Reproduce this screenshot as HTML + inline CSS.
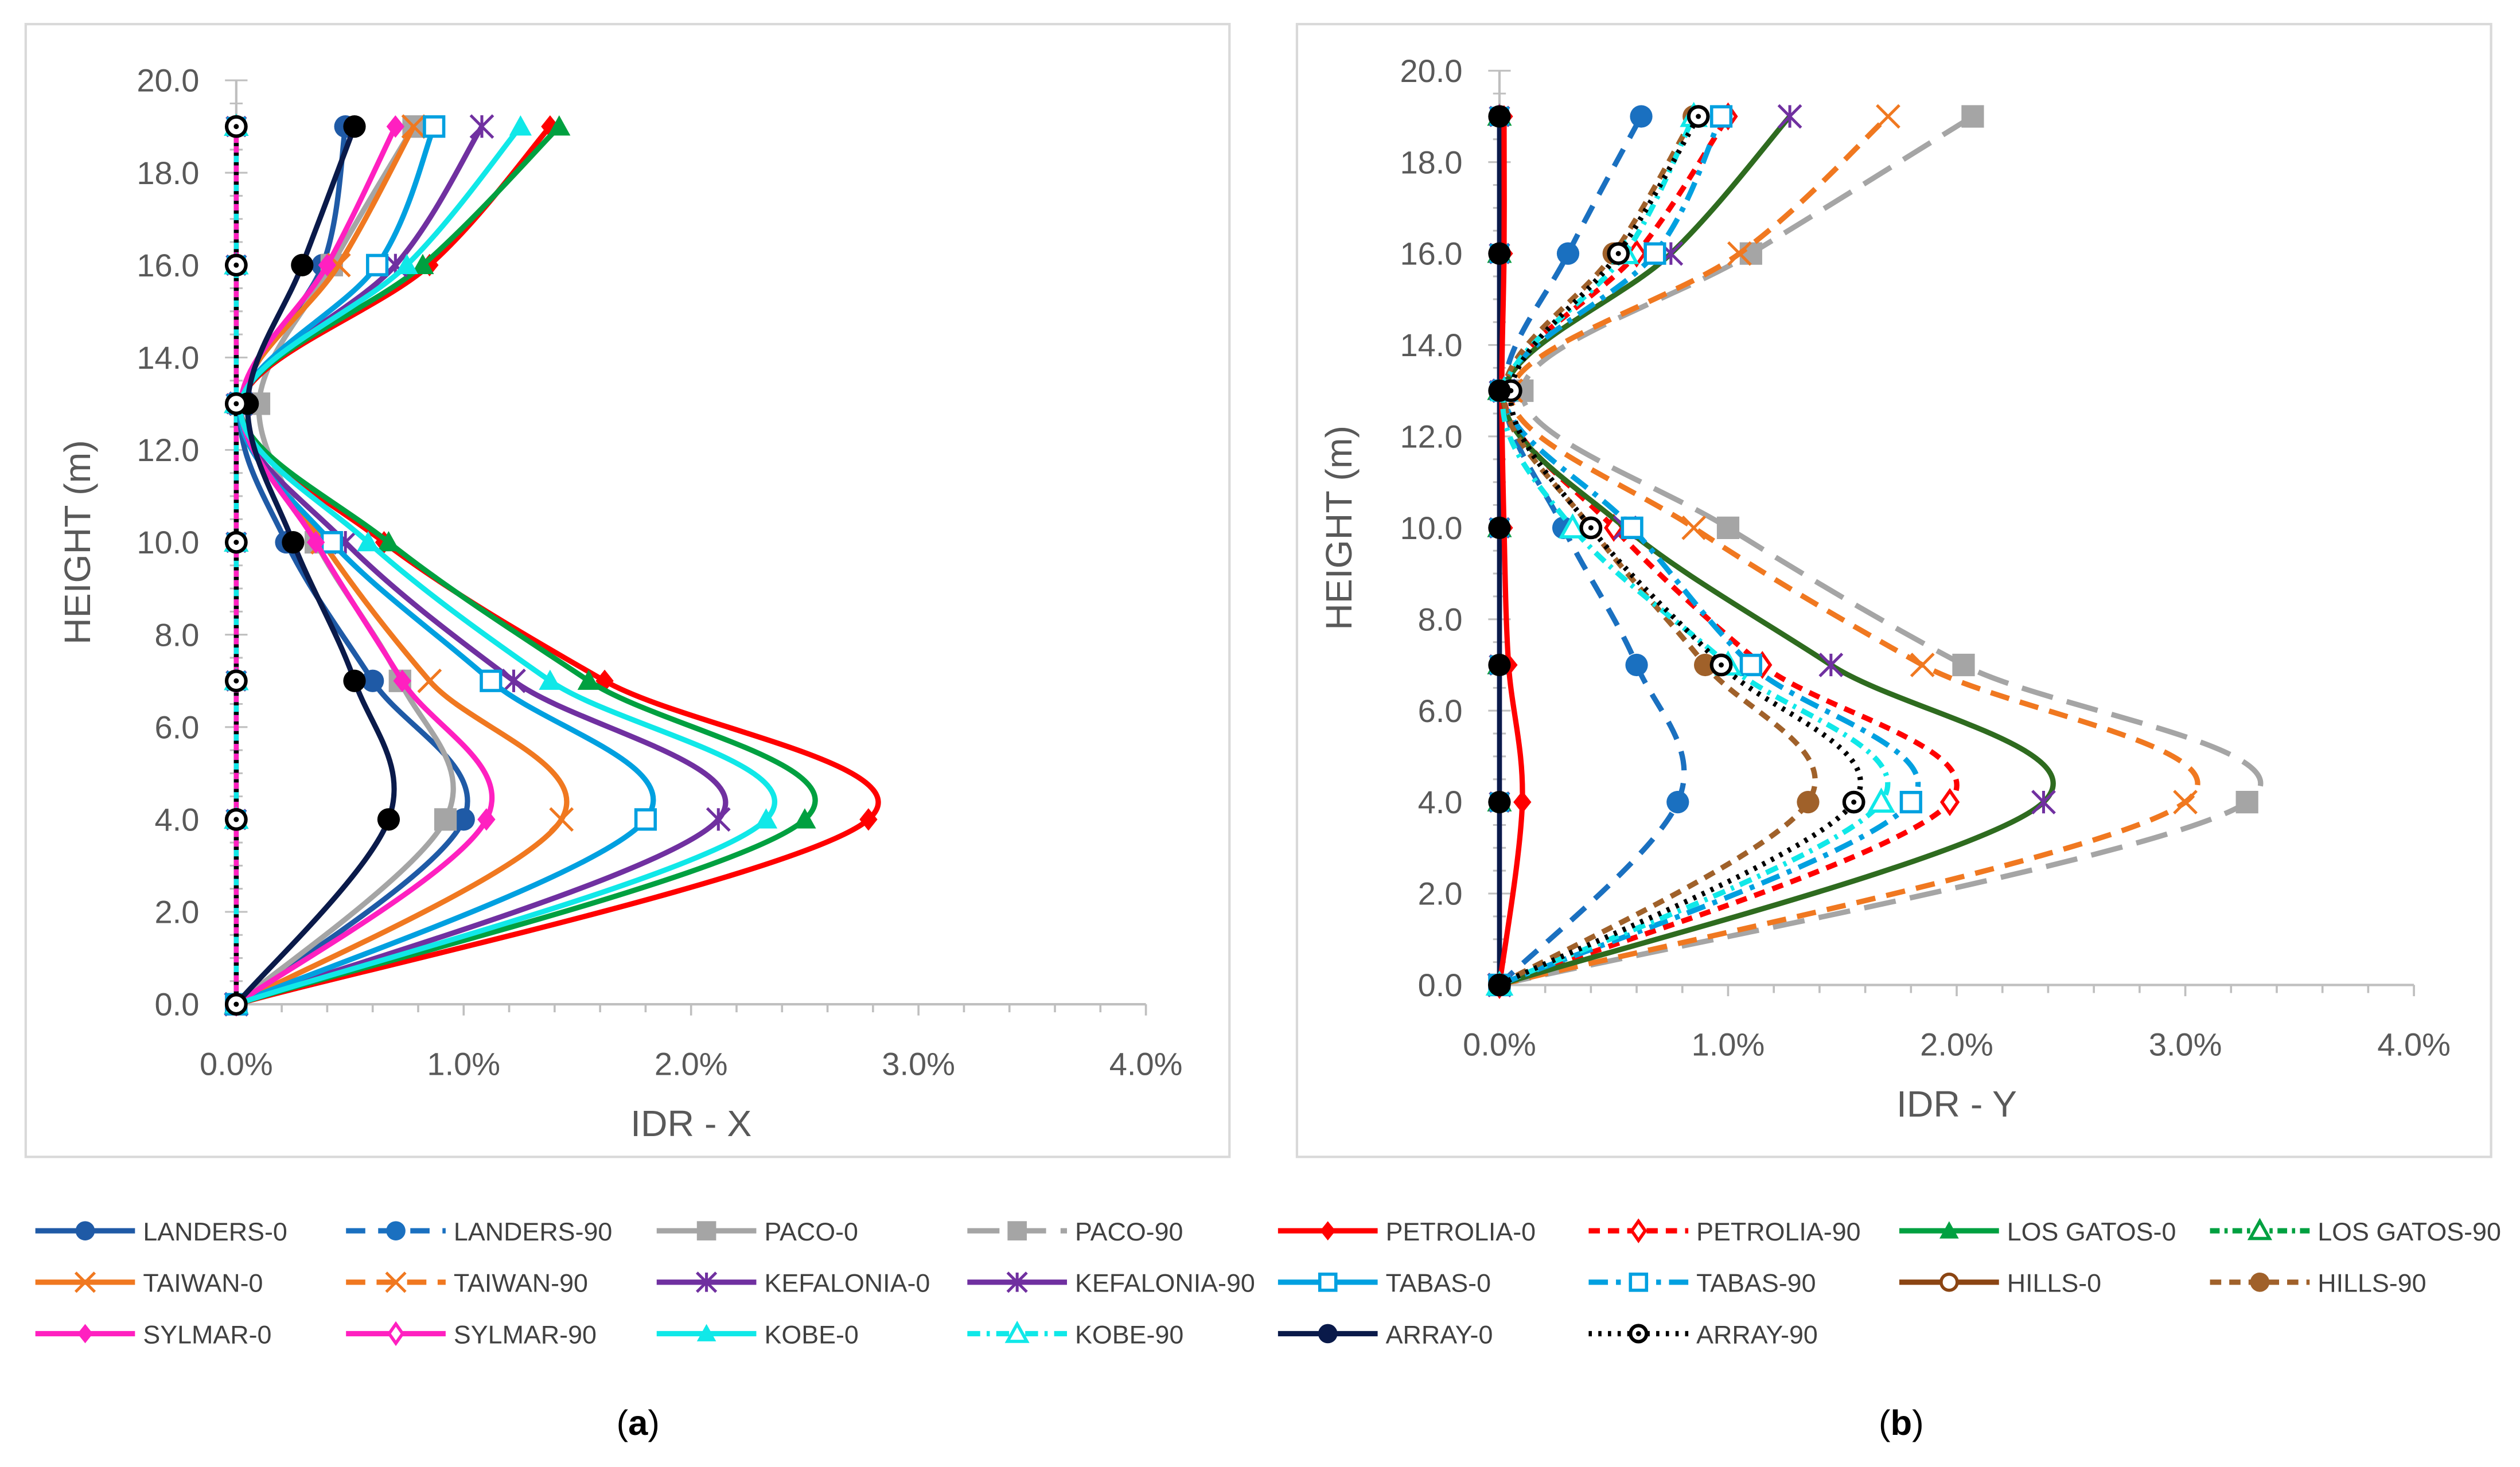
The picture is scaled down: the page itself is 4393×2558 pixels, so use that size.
<!DOCTYPE html>
<html><head><meta charset="utf-8"><style>
html,body{margin:0;padding:0;background:#fff}
svg{display:block}
text{font-family:"Liberation Sans",sans-serif}
</style></head><body>
<svg id="fig" width="4393" height="2558" viewBox="0 0 1568 913" preserveAspectRatio="none" xmlns="http://www.w3.org/2000/svg">
<rect x="0" y="0" width="1568" height="913" fill="#fff"/>
<rect x="16" y="15" width="749" height="705" fill="none" stroke="#d9d9d9" stroke-width="1.5"/>
<rect x="807" y="15" width="743" height="705" fill="none" stroke="#d9d9d9" stroke-width="1.5"/>
<g id="pa"></g><g id="pb"></g><g id="leg"></g>
<text x="397" y="893" font-family="Liberation Serif" font-size="22" text-anchor="middle" fill="#000">(<tspan font-weight="bold">a</tspan>)</text>
<text x="1183" y="893" font-family="Liberation Serif" font-size="22" text-anchor="middle" fill="#000">(<tspan font-weight="bold">b</tspan>)</text>
</svg>
<script>
const heights=[0,4,7,10,13,16,19];
const xTicks=["0.0%","1.0%","2.0%","3.0%","4.0%"];
const yTicks=["0.0","2.0","4.0","6.0","8.0","10.0","12.0","14.0","16.0","18.0","20.0"];
const names=["LANDERS-0","LANDERS-90","PACO-0","PACO-90","PETROLIA-0","PETROLIA-90","LOS GATOS-0","LOS GATOS-90","TAIWAN-0","TAIWAN-90","KEFALONIA-0","KEFALONIA-90","TABAS-0","TABAS-90","HILLS-0","HILLS-90","SYLMAR-0","SYLMAR-90","KOBE-0","KOBE-90","ARRAY-0","ARRAY-90"];
const idrX={
"LANDERS-0":[0,1.0,0.6,0.22,0.02,0.38,0.48],
"PACO-0":[0,0.92,0.72,0.35,0.1,0.42,0.78],
"PETROLIA-0":[0,2.78,1.62,0.65,0.02,0.85,1.38],
"LOS GATOS-0":[0,2.5,1.55,0.67,0.02,0.82,1.42],
"TAIWAN-0":[0,1.43,0.85,0.38,0.02,0.45,0.78],
"KEFALONIA-0":[0,2.12,1.22,0.48,0.02,0.7,1.08],
"TABAS-0":[0,1.8,1.12,0.42,0.02,0.62,0.87],
"SYLMAR-0":[0,1.1,0.73,0.35,0.02,0.4,0.7],
"KOBE-0":[0,2.33,1.38,0.58,0.02,0.75,1.25],
"ARRAY-0":[0,0.67,0.52,0.25,0.05,0.29,0.52]
};
const idrY={
"PETROLIA-0":[0,0.1,0.04,0.02,0.01,0.02,0.02],
"LANDERS-90":[0,0.78,0.6,0.28,0.02,0.3,0.62],
"PACO-90":[0,3.27,2.03,1.0,0.1,1.1,2.07],
"PETROLIA-90":[0,1.97,1.15,0.5,0.02,0.6,1.0],
"TAIWAN-90":[0,3.0,1.85,0.85,0.05,1.05,1.7],
"KEFALONIA-90":[0,2.38,1.45,0.55,0.02,0.75,1.27],
"TABAS-90":[0,1.8,1.1,0.58,0.02,0.68,0.97],
"HILLS-90":[0,1.35,0.9,0.4,0.02,0.5,0.85],
"KOBE-90":[0,1.67,1.0,0.32,0.02,0.55,0.85],
"ARRAY-90":[0,1.55,0.97,0.4,0.05,0.52,0.87]
};
const st={
"LANDERS-0":{c:"#1f5aa6",d:"",m:"circle"},"LANDERS-90":{c:"#1a70c0",d:"12,8",m:"circle"},
"PACO-0":{c:"#a5a5a5",d:"",m:"square"},"PACO-90":{c:"#a5a5a5",d:"20,9",m:"square"},
"PETROLIA-0":{c:"#ff0000",d:"",m:"diamond"},"PETROLIA-90":{c:"#ff0000",d:"7,5",m:"odiamond"},
"LOS GATOS-0":{c:"#00a040",d:"",m:"triangle"},"LOS GATOS-90":{c:"#00a040",d:"6,3,2,3",m:"otriangle"},
"TAIWAN-0":{c:"#f07820",d:"",m:"x"},"TAIWAN-90":{c:"#f07820",d:"12,7",m:"x"},
"KEFALONIA-0":{c:"#7030a0",d:"",m:"star"},"KEFALONIA-90":{c:"#2e6b1f",d:"",m:"star",mc:"#7030a0"},
"TABAS-0":{c:"#00a0e0",d:"",m:"osquare"},"TABAS-90":{c:"#00a0e0",d:"12,5,3,5",m:"osquare"},
"HILLS-0":{c:"#8b4513",d:"",m:"ocircle"},"HILLS-90":{c:"#a0612a",d:"7,5",m:"circle"},
"SYLMAR-0":{c:"#ff20c0",d:"",m:"diamond"},"SYLMAR-90":{c:"#ff20c0",d:"",m:"odiamond"},
"KOBE-0":{c:"#10e8e8",d:"",m:"triangle"},"KOBE-90":{c:"#10e8e8",d:"8,4,2,4",m:"otriangle"},
"ARRAY-0":{c:"#0a1a4a",d:"",m:"circle",mc:"#000"},"ARRAY-90":{c:"#000",d:"2,4",m:"dotcircle"}
};
const NS="http://www.w3.org/2000/svg";
function el(t,a,p){const e=document.createElementNS(NS,t);for(const k in a)e.setAttribute(k,a[k]);p.appendChild(e);return e;}
function marker(g,type,x,y,c,r){
 r=r||7;let e;
 if(type=="circle")e=el("circle",{cx:x,cy:y,r:r,fill:c},g);
 else if(type=="ocircle"){e=el("circle",{cx:x,cy:y,r:r-1,fill:"#fff",stroke:c,"stroke-width":2},g);}
 else if(type=="dotcircle"){e=el("circle",{cx:x,cy:y,r:r-1,fill:"#fff",stroke:c,"stroke-width":2.2},g);el("circle",{cx:x,cy:y,r:1.6,fill:c},g);}
 else if(type=="square")e=el("rect",{x:x-r,y:y-r,width:2*r,height:2*r,fill:c},g);
 else if(type=="osquare")e=el("rect",{x:x-r+1,y:y-r+1,width:2*r-2,height:2*r-2,fill:"#fff",stroke:c,"stroke-width":2},g);
 else if(type=="diamond")e=el("path",{d:`M${x} ${y-r}L${x+r*0.8} ${y}L${x} ${y+r}L${x-r*0.8} ${y}Z`,fill:c},g);
 else if(type=="odiamond")e=el("path",{d:`M${x} ${y-r}L${x+r*0.7} ${y}L${x} ${y+r}L${x-r*0.7} ${y}Z`,fill:"#fff",stroke:c,"stroke-width":2},g);
 else if(type=="triangle")e=el("path",{d:`M${x} ${y-r}L${x+r} ${y+r*0.8}L${x-r} ${y+r*0.8}Z`,fill:c},g);
 else if(type=="otriangle")e=el("path",{d:`M${x} ${y-r}L${x+r} ${y+r*0.8}L${x-r} ${y+r*0.8}Z`,fill:"#fff",stroke:c,"stroke-width":2},g);
 else if(type=="x")e=el("path",{d:`M${x-r} ${y-r}L${x+r} ${y+r}M${x+r} ${y-r}L${x-r} ${y+r}`,stroke:c,"stroke-width":1.8,fill:"none"},g);
 else if(type=="star")e=el("path",{d:`M${x-r} ${y-r}L${x+r} ${y+r}M${x+r} ${y-r}L${x-r} ${y+r}M${x} ${y-r}L${x} ${y+r}`,stroke:c,"stroke-width":1.8,fill:"none"},g);
 return e;
}
function smooth(pts){
 let d=`M${pts[0][0]} ${pts[0][1]}`;
 for(let i=0;i<pts.length-1;i++){
  const p0=pts[i-1]||pts[i],p1=pts[i],p2=pts[i+1],p3=pts[i+2]||p2;
  const c1=[p1[0]+(p2[0]-p0[0])/6,p1[1]+(p2[1]-p0[1])/6],c2=[p2[0]-(p3[0]-p1[0])/6,p2[1]-(p3[1]-p1[1])/6];
  d+=`C${c1[0]} ${c1[1]} ${c2[0]} ${c2[1]} ${p2[0]} ${p2[1]}`;
 }
 return d;
}
function chart(gid,ox,x4,oy,y20,data,title,pfx,tx){
 const g=document.getElementById(gid);
 const X=v=>ox+(x4-ox)*v/4, Y=v=>oy+(y20-oy)*v/20;
 const ax=el("line",{x1:X(0),y1:Y(0),x2:X(4),y2:Y(0),stroke:"#bfbfbf","stroke-width":1.5},g);
 
 const ay=el("line",{x1:X(0),y1:Y(0),x2:X(0),y2:Y(20),stroke:"#bfbfbf","stroke-width":1.5},g);
 
 for(let i=0;i<=20;i++){const v=i*0.2;el("line",{x1:X(v),y1:Y(0),x2:X(v),y2:Y(0)+(i%5==0?7:5),stroke:"#bfbfbf","stroke-width":1.3},g);}
 for(let i=0;i<=40;i++){const v=i*0.5;el("line",{x1:X(0)-(i%4==0?7:4),y1:Y(v),x2:X(0)+(i%4==0?7:4),y2:Y(v),stroke:"#bfbfbf","stroke-width":1.1},g);}
 xTicks.forEach((t,i)=>{const e=el("text",{x:X(i),y:Y(0)+44,"text-anchor":"middle","font-size":20,fill:"#595959"},g);e.textContent=t;
  });
 yTicks.forEach((t,i)=>{const e=el("text",{x:X(0)-23,y:Y(i*2)+7,"text-anchor":"end","font-size":20,fill:"#595959"},g);e.textContent=t;
  });
 const xt=el("text",{x:(X(0)+X(4))/2,y:Y(0)+82,"text-anchor":"middle","font-size":23,fill:"#595959"},g);xt.textContent=title;
 
 const yc=(Y(0)+Y(20))/2;
 const yt=el("text",{x:tx,y:yc,"text-anchor":"middle","font-size":23,fill:"#595959",transform:`rotate(-90 ${tx} ${yc})`},g);yt.textContent="HEIGHT (m)";
 
 names.filter(n=>!data[n]).forEach(n=>{const s=st[n];const sg=el("g",{},g);
  
  const pts=heights.map(h=>[X(0),Y(h)]);
  el("path",{d:smooth(pts),fill:"none",stroke:s.c,"stroke-width":3,"stroke-dasharray":s.d},sg);
  pts.forEach(p=>marker(sg,s.m,p[0],p[1],s.mc||s.c,6));});
 const nz=names.filter(n=>data[n]);
 nz.forEach(n=>{const s=st[n];const sg=el("g",{},g);
  
  const pts=data[n].map((v,i)=>[X(v),Y(heights[i])]);
  el("path",{d:smooth(pts),fill:"none",stroke:s.c,"stroke-width":3.3,"stroke-dasharray":s.d,"stroke-linecap":"butt"},sg);
  pts.forEach(p=>marker(sg,s.m,p[0],p[1],s.mc||s.c,7));});
 const zg=el("g",{},g);
 heights.forEach(h=>marker(zg,pfx=="panel-a"?"dotcircle":"circle",X(0),Y(h),"#000",7));
}
chart("pa",147,713,625,50,idrX,"IDR - X","panel-a",56);
chart("pb",933,1502,613,44,idrY,"IDR - Y","panel-b",841);
const lg=document.getElementById("leg");
const legNames=["LANDERS-0","LANDERS-90","PACO-0","PACO-90","PETROLIA-0","PETROLIA-90","LOS GATOS-0","LOS GATOS-90","TAIWAN-0","TAIWAN-90","KEFALONIA-0","KEFALONIA-90","TABAS-0","TABAS-90","HILLS-0","HILLS-90","SYLMAR-0","SYLMAR-90","KOBE-0","KOBE-90","ARRAY-0","ARRAY-90"];
const legColor={"KEFALONIA-90":"#7030a0","ARRAY-0":"#0a1a4a"};
legNames.forEach((n,i)=>{
 const col=i%8,row=Math.floor(i/8);const x=22+col*193.3,y=766+row*32;const s=st[n];
 const g=el("g",{},lg);
 
 
 const c=legColor[n]||s.c;
 el("line",{x1:x,y1:y,x2:x+62,y2:y,stroke:c,"stroke-width":3.3,"stroke-dasharray":s.d},g);
 marker(g,s.m,x+31,y,c,6);
 const t=el("text",{x:x+67,y:y+6,"font-size":16,fill:"#404040"},g);t.textContent=n;
});
</script>
</body></html>
